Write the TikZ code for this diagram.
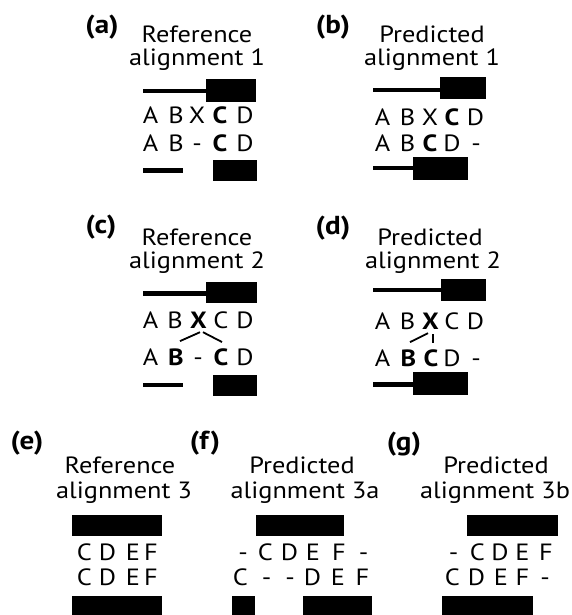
\documentclass[tikz,border=0pt]{standalone}
\usepackage{fontspec}
\setmainfont{PT Sans}[FakeStretch=1.12]
\begin{document}
\begin{tikzpicture}[x=1pt,y=-1pt,
  lbl/.style={font=\fontsize{26}{26}\selectfont\bfseries, inner sep=0},
  ttl/.style={font=\fontsize{23.5}{23.5}\selectfont, anchor=base, inner sep=0},
  res/.style={font=\fontsize{23.5}{23.5}\selectfont, anchor=base, inner sep=0},
  link/.style={line width=1.8pt},
  stem/.style={line width=4.5pt},
]
\useasboundingbox (0,0) rectangle (572,615);
\fill[white] (0,0) rectangle (572,615);

% ---------- (a) reference alignment 1
\node[lbl] (la) at (102,27) {(a)};
\node[ttl] (ta1) at (197,43) {Reference};
\node[ttl] (ta2) at (197,66) {alignment 1};
\draw[stem] (143,91) -- (207,91);
\fill (206,79) rectangle (256,102);
\foreach \x/\t [count=\i] in {150.5/A,176/B,197/X,220/\textbf{C},245/D}
  \node[res] (a1-\i) at (\x,124) {\t};
\foreach \x/\t [count=\i] in {150.5/A,176/B,197/-,220/\textbf{C},245/D}
  \node[res] (a2-\i) at (\x,151) {\t};
\draw[stem] (143,170.5) -- (183,170.5);
\fill (213,160) rectangle (257,181);

% ---------- (b) predicted alignment 1
\node[lbl] (lb) at (333,27) {(b)};
\node[ttl] (tb1) at (432,43) {Predicted};
\node[ttl] (tb2) at (432,66) {alignment 1};
\draw[stem] (373,90) -- (440,90);
\fill (440,77) rectangle (486,99);
\foreach \x/\t [count=\i] in {382.5/A,407.5/B,430/X,452/\textbf{C},475.5/D}
  \node[res] (b1-\i) at (\x,125) {\t};
\foreach \x/\t [count=\i] in {382.5/A,407.5/B,430/\textbf{C},452/D,476/-}
  \node[res] (b2-\i) at (\x,151) {\t};
\draw[stem] (373,168) -- (415,168);
\fill (413,157) rectangle (468,180);

% ---------- (c) reference alignment 2
\node[lbl] (lc) at (101,227) {(c)};
\node[ttl] (tc1) at (197,245) {Reference};
\node[ttl] (tc2) at (197,268) {alignment 2};
\draw[stem] (143,293.5) -- (207,293.5);
\fill (206,282) rectangle (257,303);
\foreach \x/\t [count=\i] in {150.5/A,175/B,198.5/\textbf{X},221/C,245/D}
  \node[res] (c1-\i) at (\x,328) {\t};
\foreach \x/\t [count=\i] in {150.5/A,176/\textbf{B},198/-,221/\textbf{C},245/D}
  \node[res] (c2-\i) at (\x,365) {\t};
\draw[link] ([shift={(1.5,4)}]c1-3.south) -- ([shift={(4,-7)}]c2-2.north);
\draw[link] ([shift={(4.5,4)}]c1-3.south) -- ([shift={(1,-6)}]c2-4.north);
\draw[stem] (143,385) -- (183,385);
\fill (213,375) rectangle (257,396);

% ---------- (d) predicted alignment 2
\node[lbl] (ld) at (333,228) {(d)};
\node[ttl] (td1) at (430,245) {Predicted};
\node[ttl] (td2) at (433,268) {alignment 2};
\draw[stem] (373,290) -- (442,290);
\fill (441,279) rectangle (486,301);
\foreach \x/\t [count=\i] in {382.5/A,407.5/B,430.5/\textbf{X},452/C,475.5/D}
  \node[res] (d1-\i) at (\x,329) {\t};
\foreach \x/\t [count=\i] in {382.5/A,408.5/\textbf{B},431/\textbf{C},452/D,476/-}
  \node[res] (d2-\i) at (\x,366) {\t};
\draw[link] ([shift={(-2.5,4)}]d1-3.south) -- ([shift={(1.5,-7)}]d2-2.north);
\draw[link] ([shift={(2.5,5)}]d1-3.south) -- ([shift={(2,-6)}]d2-3.north);
\draw[stem] (373,384.5) -- (415,384.5);
\fill (413,372) rectangle (468,395);

% ---------- (e) reference alignment 3
\node[lbl] (le) at (27,443) {(e)};
\node[ttl] (te1) at (120,473) {Reference};
\node[ttl] (te2) at (124,498) {alignment 3};
\fill (72,515) rectangle (162,536);
\foreach \x/\t [count=\i] in {84.5/C,107.5/D,133/E,151/F}
  \node[res] (e1-\i) at (\x,560) {\t};
\foreach \x/\t [count=\i] in {84.5/C,107.5/D,133/E,151/F}
  \node[res] (e2-\i) at (\x,585) {\t};
\fill (72,596) rectangle (162,615);

% ---------- (f) predicted alignment 3a
\node[lbl] (lf) at (205,443) {(f)};
\node[ttl] (tf1) at (302,473) {Predicted};
\node[ttl] (tf2) at (305,498) {alignment 3a};
\fill (256,515) rectangle (344,536);
\foreach \x/\t [count=\i] in {243/-,265.5/C,289.5/D,313/E,339/F,363.5/-}
  \node[res] (f1-\i) at (\x,560) {\t};
\foreach \x/\t [count=\i] in {240.5/C,266.5/-,290/-,312.5/D,338/E,362.5/F}
  \node[res] (f2-\i) at (\x,585) {\t};
\fill (232,596) rectangle (255,615);
\fill (303,596) rectangle (372,615);

% ---------- (g) predicted alignment 3b
\node[lbl] (lg) at (404,444) {(g)};
\node[ttl] (tg1) at (496,473) {Predicted};
\node[ttl] (tg2) at (495,498) {alignment 3b};
\fill (467,515) rectangle (558,536);
\foreach \x/\t [count=\i] in {453.5/-,477.5/C,500/D,522.5/E,546/F}
  \node[res] (g1-\i) at (\x,560) {\t};
\foreach \x/\t [count=\i] in {452.5/C,476.5/D,501/E,522.5/F,545/-}
  \node[res] (g2-\i) at (\x,585) {\t};
\fill (442,596) rectangle (533,615);
\end{tikzpicture}
\end{document}
